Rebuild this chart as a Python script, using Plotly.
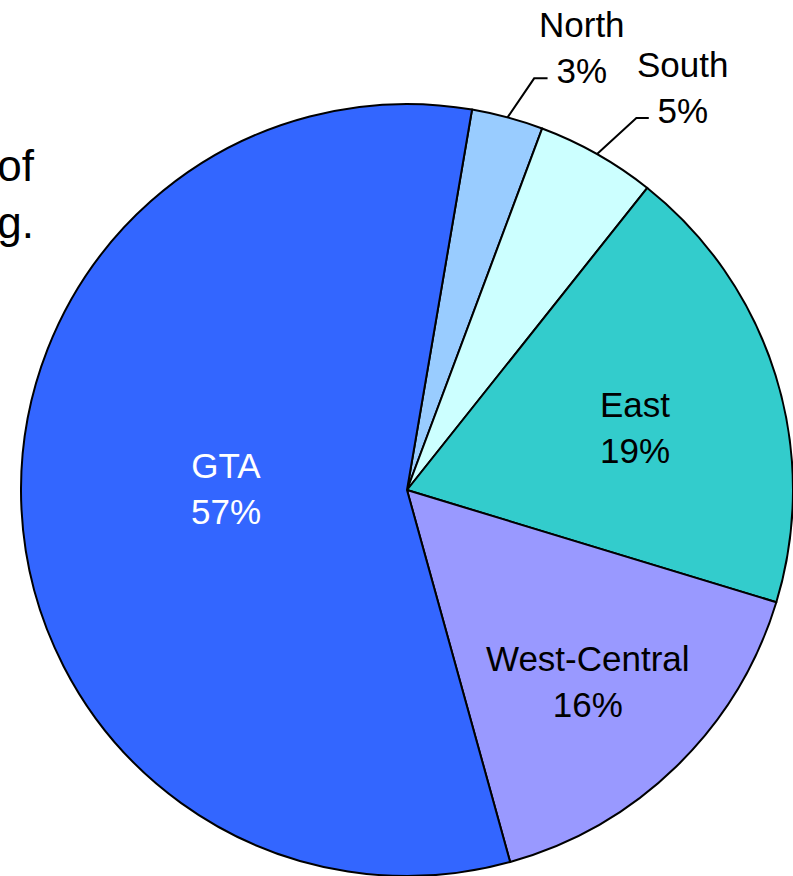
import math
import plotly.graph_objects as go

# Regional shares (percent), clockwise from the start angle
regions = ["North", "South", "East", "West-Central", "GTA"]
shares = [3, 5, 19, 16, 57]
colors = ["#99CCFF", "#CCFFFF", "#33CCCC", "#9999FF", "#3366FF"]
label_colors = ["black", "black", "black", "black", "white"]

W, H = 793, 876
START_DEG = 9.7          # first slice boundary, clockwise from 12 o'clock
FONT = "Liberation Sans, Arial, sans-serif"
FS = 35

# pie placement in pixels
left_px, top_px = 21, 104
diam = W - left_px
cx = left_px + diam / 2
cy = top_px + diam / 2
R = diam / 2


def px_to_paper(x, y):
    return x / W, 1 - y / H


# mid angle (deg, clockwise from top) of each slice
total = sum(shares)
mid_angles = []
acc = START_DEG
for v in shares:
    span = 360 * v / total
    mid_angles.append(acc + span / 2)
    acc += span


def polar(angle_deg, r):
    a = math.radians(angle_deg)
    return cx + r * math.sin(a), cy - r * math.cos(a)


fig = go.Figure(go.Pie(
    labels=regions,
    values=shares,
    sort=False,
    direction="clockwise",
    rotation=START_DEG,
    marker=dict(colors=colors, line=dict(color="black", width=2)),
    textinfo="none",
    hoverinfo="label+percent",
    showlegend=False,
    domain=dict(x=[left_px / W, 1], y=[1 - (top_px + diam) / H, 1 - top_px / H]),
))

annotations = []
shapes = []

# labels drawn inside the larger slices: (radial fraction, pixel nudge)
inside = {
    "East": (0.62, (0, 9)),
    "West-Central": (0.67, (0, 6)),
    "GTA": (0.47, (0, -11)),
}
# labels outside the thin slices, with elbow leader lines
outside = {
    "North": ((26.6, -39.0), 13.4),
    "South": ((39.3, -36.0), 12.4),
}

for name, v, ang, tc in zip(regions, shares, mid_angles, label_colors):
    text = f"{name}<br>{round(100 * v / total)}%"
    if name in inside:
        frac, (nx, ny) = inside[name]
        x, y = polar(ang, R * frac)
        x += nx
        y += ny
        px_, py_ = px_to_paper(x, y)
        annotations.append(dict(
            x=px_, y=py_, xref="paper", yref="paper", text=text,
            showarrow=False, xanchor="center", yanchor="middle", align="center",
            font=dict(family=FONT, size=FS, color=tc),
        ))
    else:
        (ex, ey), hlen = outside[name]
        x0, y0 = polar(ang, R)
        x1, y1 = x0 + ex, y0 + ey
        x2, y2 = x1 + hlen, y1
        p0, p1, p2 = px_to_paper(x0, y0), px_to_paper(x1, y1), px_to_paper(x2, y2)
        shapes.append(dict(
            type="path", xref="paper", yref="paper",
            path=f"M {p0[0]},{p0[1]} L {p1[0]},{p1[1]} L {p2[0]},{p2[1]}",
            line=dict(color="black", width=2),
        ))
        lx, ly = px_to_paper(x2 + 34, y2 - 31)
        annotations.append(dict(
            x=lx, y=ly, xref="paper", yref="paper", text=text,
            showarrow=False, xanchor="center", yanchor="middle", align="center",
            font=dict(family=FONT, size=FS, color=tc),
        ))

# caption text running in from the left edge
cap_x, cap_y = px_to_paper(37, 194)
annotations.append(dict(
    x=cap_x, y=cap_y, xref="paper", yref="paper",
    text="Regional share of<br>total spending.",
    showarrow=False, xanchor="right", yanchor="middle", align="right",
    font=dict(family=FONT, size=44, color="black"),
))

fig.update_layout(
    width=W, height=H,
    margin=dict(l=0, r=0, t=0, b=0),
    paper_bgcolor="white",
    plot_bgcolor="white",
    annotations=annotations,
    shapes=shapes,
)

fig.write_html("out.html")
